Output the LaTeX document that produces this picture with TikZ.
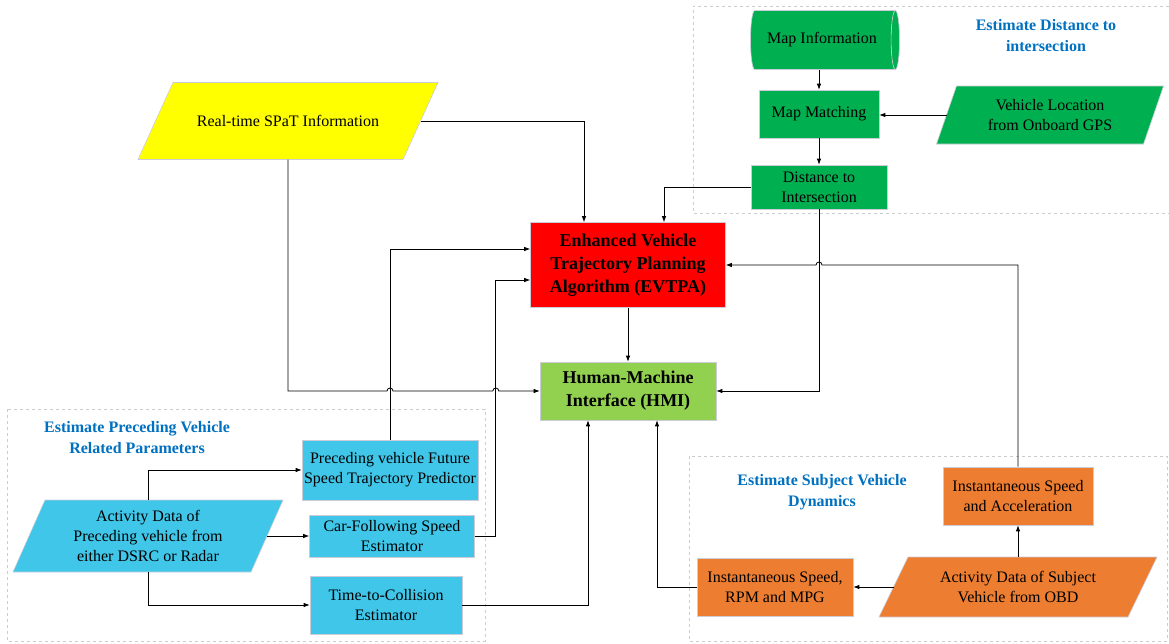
\documentclass[tikz,border=0pt]{standalone}
\usepackage{fontspec}
\setmainfont{Liberation Serif}
\usetikzlibrary{shapes.geometric,arrows.meta,calc}
\pgfdeclarelayer{back}
\pgfsetlayers{back,main}
\definecolor{spatyellow}{HTML}{FFFF00}
\definecolor{mapgreen}{HTML}{00B050}
\definecolor{hmigreen}{HTML}{92D050}
\definecolor{precblue}{HTML}{3FC6E8}
\definecolor{subjorange}{HTML}{ED7D31}
\definecolor{titleblue}{HTML}{0070C0}
\newcommand\paraback[3]{%
  \filldraw[draw=blue!15!gray!35,line width=0.6pt,fill=#3]
    ($(#1.south west)+(-#2/2,0)$) -- ($(#1.south east)+(-#2/2,0)$) --
    ($(#1.north east)+(#2/2,0)$) -- ($(#1.north west)+(#2/2,0)$) -- cycle;}
\begin{document}
\begin{tikzpicture}[x=1pt,y=-1pt,
  >={Latex[length=6pt,width=4.5pt]},
  blk/.style={draw=blue!15!gray!35,line width=0.6pt,align=center,inner sep=2pt,
    font=\fontsize{16}{20}\selectfont},
  para/.style={blk,draw=none,outer sep=0pt},
  core/.style={blk,font=\fontsize{18}{23}\selectfont\bfseries},
  grp/.style={draw=gray!40,dashed,line width=0.8pt},
  grptitle/.style={align=center,text=titleblue,font=\fontsize{16}{21}\selectfont\bfseries},
  conn/.style={->,line width=0.8pt}]
  \useasboundingbox (0,0) rectangle (1169,643);
  \draw[grp] (1169,6) -- (693,6) -- (693,213) -- (1169,213);
  \draw[grp] (7,409) rectangle (485,641);
  \draw[grp] (689,456) rectangle (1167,641);
  \node[grptitle] (disttitle) at (1046,36) {Estimate Distance to\\intersection};
  \node[grptitle] (prectitle) at (137,438) {Estimate Preceding Vehicle\\Related Parameters};
  \node[grptitle] (subjtitle) at (822,492) {Estimate Subject Vehicle\\Dynamics};
  \node[blk,cylinder,aspect=0.45,cylinder uses custom fill,cylinder body fill=mapgreen,
    cylinder end fill=mapgreen,minimum height=149pt,minimum width=59pt] (mapinfo) at (822,40) {Map Information};
  \node[blk,fill=mapgreen,minimum width=120pt,minimum height=48pt] (mapmatch) at (819,114) {Map Matching};
  \node[para,minimum width=207pt,minimum height=58pt] (vloc) at (1050,115) {Vehicle Location\\from Onboard GPS};
  \node[blk,fill=mapgreen,minimum width=136pt,minimum height=44pt] (dist) at (819,187) {Distance to\\Intersection};
  \node[para,minimum width=265pt,minimum height=77pt] (spat) at (288,121) {Real-time SPaT Information};
  \node[core,fill=red,minimum width=195pt,minimum height=85pt] (evtpa) at (628,265) {Enhanced Vehicle\\Trajectory Planning\\Algorithm (EVTPA)};
  \node[core,fill=hmigreen,minimum width=176pt,minimum height=58pt] (hmi) at (628,391) {Human-Machine\\Interface (HMI)};
  \node[para,minimum width=238pt,minimum height=72pt] (apv) at (148,536) {Activity Data of\\Preceding vehicle from\\either DSRC or Radar};
  \node[blk,fill=precblue,minimum width=176pt,minimum height=60pt] (pfut) at (390,470) {Preceding vehicle Future\\Speed Trajectory Predictor};
  \node[blk,fill=precblue,minimum width=165pt,minimum height=42pt] (cfs) at (392,536) {Car-Following Speed\\Estimator};
  \node[blk,fill=precblue,minimum width=152pt,minimum height=58pt] (ttc) at (386,605) {Time-to-Collision\\Estimator};
  \node[blk,fill=subjorange,minimum width=150pt,minimum height=58pt] (isa) at (1018,496) {Instantaneous Speed\\and Acceleration};
  \node[para,minimum width=249pt,minimum height=60pt] (asub) at (1018,587) {Activity Data of Subject\\Vehicle from OBD};
  \node[blk,fill=subjorange,minimum width=156pt,minimum height=58pt] (rpm) at (775,587) {Instantaneous Speed,\\RPM and MPG};
  \begin{pgfonlayer}{back}
    \paraback{vloc}{20}{mapgreen}
    \paraback{spat}{35}{spatyellow}
    \paraback{apv}{32}{precblue}
    \paraback{asub}{29}{subjorange}
  \end{pgfonlayer}
  \draw[conn] (mapinfo.south -| mapmatch.north) -- (mapmatch.north);
  \draw[conn] (mapmatch.south) -- (dist.north);
  \draw[conn] (vloc.west) -- (vloc.west -| mapmatch.east);
  \draw[conn] (spat.east) -| ([xshift=-44pt]evtpa.north);
  \draw[conn] (dist.west) -| ([xshift=36pt]evtpa.north);
  \draw[conn] (evtpa.south) -- (hmi.north);
  \draw[conn] (dist.south) |- (hmi.east);
  \draw[conn] (isa.north) |- ($(dist.south |- evtpa.east)+(3,0)$) arc[start angle=0,end angle=180,radius=3pt] -- (evtpa.east);
  \draw[conn] (asub.north) -- (isa.south);
  \draw[conn] (asub.west) -- (rpm.east);
  \draw[conn] (rpm.west) -| ([xshift=29pt]hmi.south);
  \draw[conn] (ttc.east) -| ([xshift=-40pt]hmi.south);
  \coordinate (cfsbend) at ([xshift=21pt]cfs.east);
  \draw[conn] (cfs.east) -- (cfsbend) |- ([yshift=-15pt]evtpa.west);
  \draw[conn] (pfut.north) |- ([yshift=16pt]evtpa.west);
  \draw[conn] (spat.south) |- ($(pfut.north |- hmi.west)+(-3,0)$) arc[start angle=180,end angle=0,radius=3pt]
    -- ($(cfsbend |- hmi.west)+(-3,0)$) arc[start angle=180,end angle=0,radius=3pt] -- (hmi.west);
  \draw[conn] (apv.north) |- (pfut.west);
  \draw[conn] (apv.east) -- (cfs.west);
  \draw[conn] (apv.south) |- (ttc.west);
\end{tikzpicture}
\end{document}
